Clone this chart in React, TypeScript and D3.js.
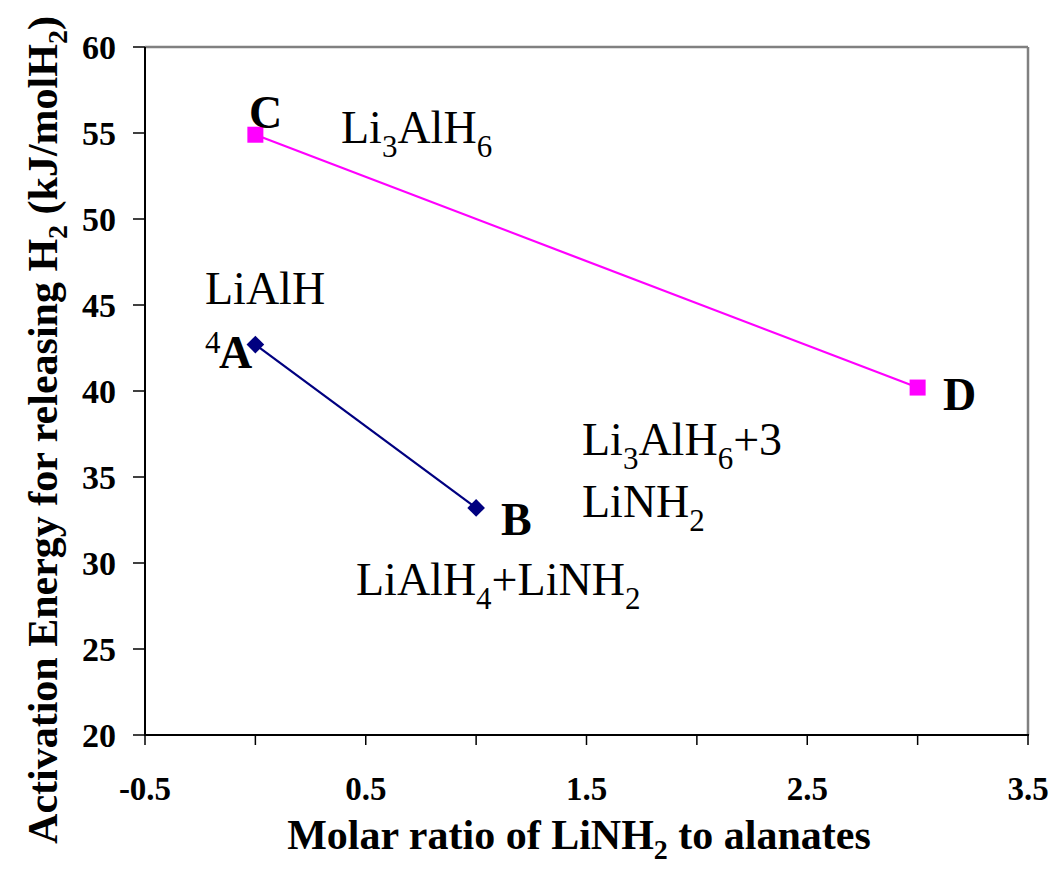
import React from "react";
import * as d3 from "d3";

const seriesAB_x = [0, 1];
const seriesAB_y = [42.7, 33.2];
const seriesCD_x = [0, 3];
const seriesCD_y = [54.9, 40.2];
const xTicks = [-0.5, 0, 0.5, 1, 1.5, 2, 2.5, 3, 3.5];
const xTickLabels = ["-0.5", "0.5", "1.5", "2.5", "3.5"];
const yTicks = [20, 25, 30, 35, 40, 45, 50, 55, 60];

const W = 1055, H = 875;
const L = 145, R = 1028, T = 47, B = 735;

export default function App() {
  const x = d3.scaleLinear().domain([-0.5, 3.5]).range([L, R]);
  const y = d3.scaleLinear().domain([20, 60]).range([B, T]);
  const line = d3.line<[number, number]>().x(d => x(d[0])).y(d => y(d[1]));
  const ab: [number, number][] = seriesAB_x.map((v, i) => [v, seriesAB_y[i]]);
  const cd: [number, number][] = seriesCD_x.map((v, i) => [v, seriesCD_y[i]]);
  const serif = "'Liberation Serif', 'Times New Roman', serif";
  const sq = 16;
  const dm = 12.5;
  return (
    <svg width={W} height={H} style={{ position: "absolute", left: 0, top: 0, background: "#fff" }} fontFamily={serif}>
      <rect x={0} y={0} width={W} height={H} fill="#fff" />
      {/* plot border */}
      <line x1={L} y1={T} x2={R} y2={T} stroke="#808080" strokeWidth={2.5} />
      <line x1={R} y1={T} x2={R} y2={B} stroke="#808080" strokeWidth={2.5} />
      {/* axes */}
      <line x1={L} y1={T} x2={L} y2={B} stroke="#000" strokeWidth={2} />
      <line x1={L - 1} y1={B} x2={R + 1} y2={B} stroke="#000" strokeWidth={2} />
      {yTicks.map(t => (
        <g key={"y" + t}>
          <line x1={L - 12} y1={y(t)} x2={L} y2={y(t)} stroke="#000" strokeWidth={1.5} />
          <text x={116} y={y(t)} dy="0.35em" textAnchor="end" fontWeight="bold" fontSize={34}>{t}</text>
        </g>
      ))}
      {xTicks.map(t => (
        <line key={"x" + t} x1={x(t)} y1={B} x2={x(t)} y2={B + 10} stroke="#000" strokeWidth={1.5} />
      ))}
      {xTickLabels.map(s => (
        <text key={"xl" + s} x={x(+s)} y={800} textAnchor="middle" fontWeight="bold" fontSize={33}>{s}</text>
      ))}
      {/* axis titles */}
      <text x={579} y={849} textAnchor="middle" fontWeight="bold" fontSize={42}>
        Molar ratio of LiNH<tspan fontSize={28} dy={10}>2</tspan><tspan dy={-10}> to alanates</tspan>
      </text>
      <text transform={`translate(57,430) rotate(-90)`} textAnchor="middle" fontWeight="bold" fontSize={42}>
        Activation Energy for releasing H<tspan fontSize={28} dy={10}>2</tspan><tspan dy={-10}> (kJ/molH</tspan><tspan fontSize={28} dy={10}>2</tspan><tspan dy={-10}>)</tspan>
      </text>
      {/* series */}
      <path d={line(cd) || ""} fill="none" stroke="#FF00FF" strokeWidth={2.2} />
      <path d={line(ab) || ""} fill="none" stroke="#000080" strokeWidth={2.2} />
      {cd.map((p, i) => (
        <rect key={"cd" + i} x={x(p[0]) - sq / 2} y={y(p[1]) - sq / 2} width={sq} height={sq} fill="#FF00FF" />
      ))}
      {ab.map((p, i) => (
        <rect key={"ab" + i} x={x(p[0]) - dm / 2} y={y(p[1]) - dm / 2} width={dm} height={dm} fill="#000080"
          transform={`rotate(45 ${x(p[0])} ${y(p[1])})`} />
      ))}
      {/* annotations */}
      <text x={249} y={128} fontWeight="bold" fontSize={46}>C</text>
      <text x={341} y={143} fontSize={46}>Li<tspan fontSize={31} dy={14}>3</tspan><tspan dy={-14}>AlH</tspan><tspan fontSize={31} dy={14}>6</tspan></text>
      <text x={205} y={304} fontSize={46}>LiAlH</text>
      <text x={205} y={353} fontSize={31}>4</text>
      <text x={219} y={368} fontWeight="bold" fontSize={46}>A</text>
      <text x={943} y={410} fontWeight="bold" fontSize={46}>D</text>
      <text x={582} y={455} fontSize={46}>Li<tspan fontSize={31} dy={14}>3</tspan><tspan dy={-14}>AlH</tspan><tspan fontSize={31} dy={14}>6</tspan><tspan dy={-14}>+3</tspan></text>
      <text x={582} y={517} fontSize={46}>LiNH<tspan fontSize={31} dy={14}>2</tspan></text>
      <text x={501} y={535} fontWeight="bold" fontSize={46}>B</text>
      <text x={356} y={595} fontSize={46}>LiAlH<tspan fontSize={31} dy={14}>4</tspan><tspan dy={-14}>+LiNH</tspan><tspan fontSize={31} dy={14}>2</tspan></text>
    </svg>
  );
}
